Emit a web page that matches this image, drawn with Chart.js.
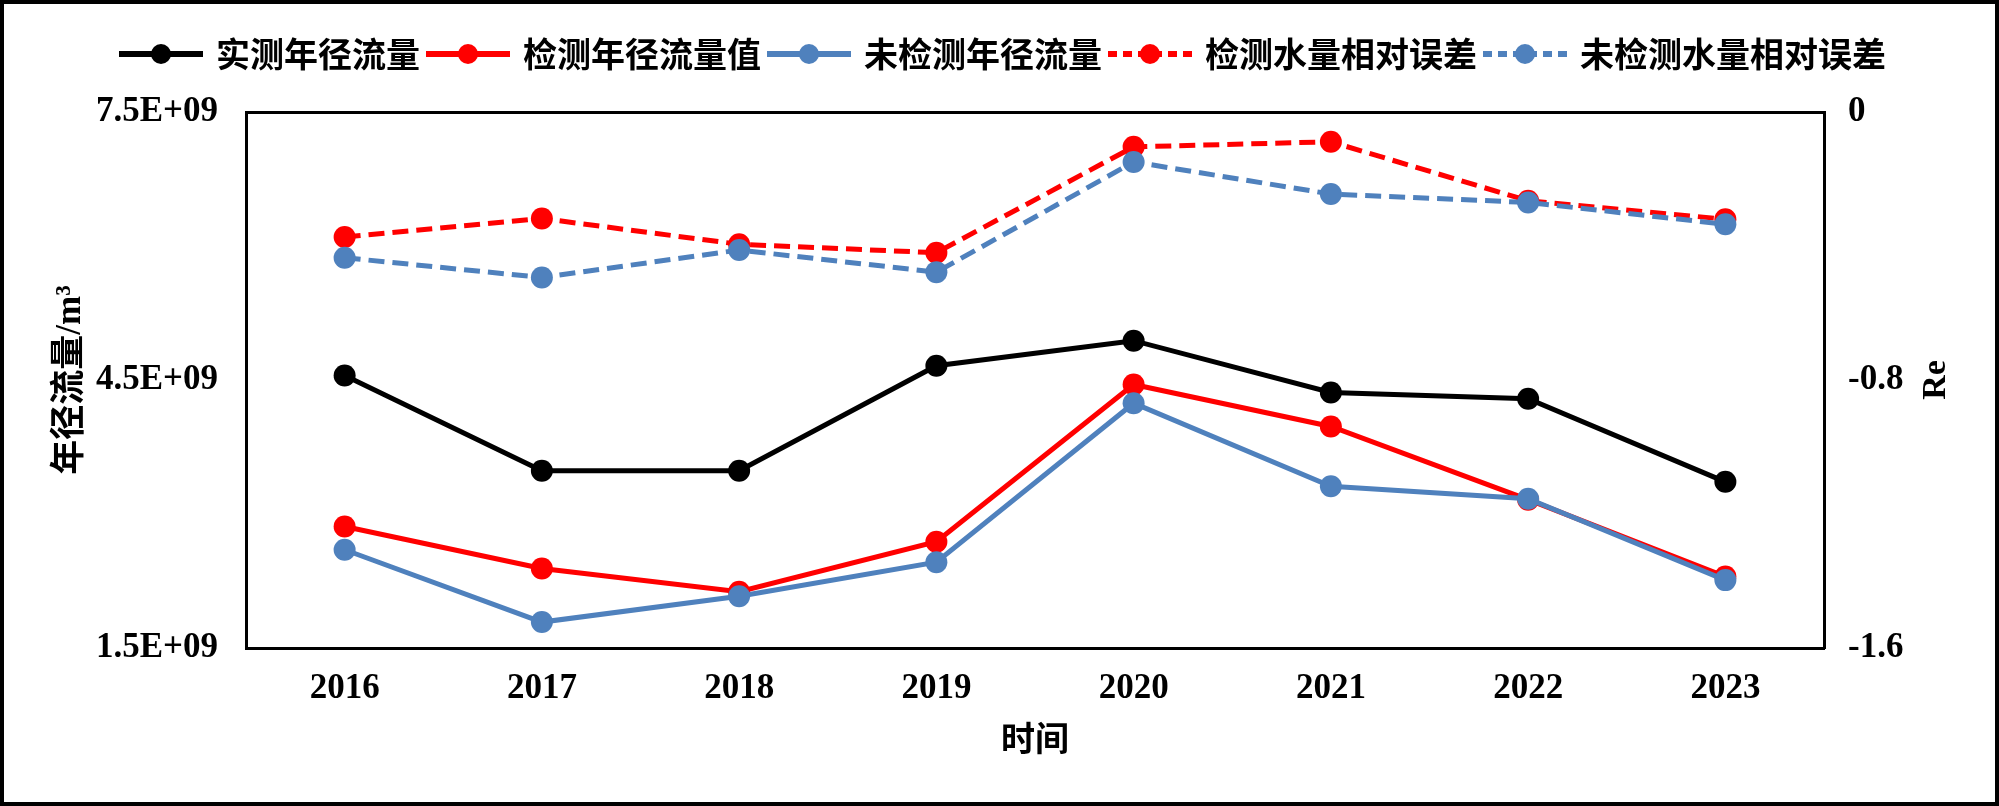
<!DOCTYPE html>
<html>
<head>
<meta charset="utf-8">
<script src="https://cdn.jsdelivr.net/npm/chart.js@4/dist/chart.umd.min.js"></script>
<style>
  html, body { margin: 0; padding: 0; background: #fff; }
  #wrap { width: 1999px; height: 806px; }
</style>
</head>
<body>
<div id="wrap"><canvas id="c" width="1999" height="806"></canvas></div>
<script>
// ---- data ----
const categories = ['2016', '2017', '2018', '2019', '2020', '2021', '2022', '2023'];
const measuredRunoff   = [4.55e9, 3.485e9, 3.485e9, 4.66e9, 4.94e9, 4.36e9, 4.29e9, 3.36e9];
const detectedRunoff   = [2.86e9, 2.39e9, 2.13e9, 2.69e9, 4.45e9, 3.98e9, 3.16e9, 2.30e9];
const undetectedRunoff = [2.60e9, 1.79e9, 2.08e9, 2.46e9, 4.24e9, 3.31e9, 3.17e9, 2.26e9];
const detectedRe       = [-0.373, -0.318, -0.395, -0.42, -0.104, -0.089, -0.265, -0.32];
const undetectedRe     = [-0.435, -0.494, -0.412, -0.478, -0.149, -0.245, -0.27, -0.335];
const seriesNames = ['实测年径流量', '检测年径流量值', '未检测年径流量', '检测水量相对误差', '未检测水量相对误差'];
const leftTicks = [1.5e9, 4.5e9, 7.5e9];
const rightTicks = [-1.6, -0.8, 0];

const BLACK = '#000000', RED = '#FF0000', BLUE = '#4F81BD';
const latinFont = "'Liberation Serif', 'Noto Sans CJK SC', serif";
const cjkFont = "'Noto Sans CJK SC', 'Liberation Serif', sans-serif";

function legendIcon(color, dashed) {
  const cv = document.createElement('canvas');
  cv.width = 84; cv.height = 28;
  const g = cv.getContext('2d');
  g.strokeStyle = color; g.lineWidth = 6;
  if (dashed) g.setLineDash([9, 6]);
  g.beginPath(); g.moveTo(0, 14); g.lineTo(84, 14); g.stroke();
  g.setLineDash([]);
  g.fillStyle = color;
  g.beginPath(); g.arc(42, 14, 10, 0, Math.PI * 2); g.fill();
  return cv;
}
const icons = [
  legendIcon(BLACK, false), legendIcon(RED, false), legendIcon(BLUE, false),
  legendIcon(RED, true), legendIcon(BLUE, true)
];

function mkSet(label, data, color, axis, dashed, order) {
  return {
    label, data, yAxisID: axis, order,
    borderColor: color, backgroundColor: color,
    borderWidth: 5, borderDash: dashed ? [16, 8] : [],
    pointStyle: 'circle', pointRadius: 11, pointHoverRadius: 11,
    pointBackgroundColor: color, pointBorderColor: color, pointBorderWidth: 0,
    tension: 0, fill: false
  };
}

const framePlugin = {
  id: 'frame',
  beforeDraw(chart) {
    const ctx = chart.ctx;
    ctx.save(); ctx.fillStyle = '#fff';
    ctx.fillRect(0, 0, chart.width, chart.height); ctx.restore();
  },
  afterDraw(chart) {
    const ctx = chart.ctx, a = chart.chartArea;
    ctx.save();
    ctx.strokeStyle = '#000'; ctx.lineWidth = 4;
    ctx.strokeRect(2, 2, chart.width - 4, chart.height - 4);
    ctx.fillStyle = '#000';
    ctx.font = "bold 34px " + latinFont;
    ctx.textAlign = 'center'; ctx.textBaseline = 'middle';
    ctx.translate(1936, (a.top + a.bottom) / 2);
    ctx.rotate(-Math.PI / 2);
    ctx.fillText('Re', 0, 0);
    ctx.restore();
  }
};

function fmtSci(v) {
  const s = Number(v).toExponential(1);          // e.g. 1.5e+9
  const m = s.match(/^(-?[\d.]+)e([+-])(\d+)$/);
  if (!m) return s;
  return m[1] + 'E' + m[2] + m[3].padStart(2, '0');
}

new Chart(document.getElementById('c'), {
  type: 'line',
  data: {
    labels: categories,
    datasets: [
      mkSet(seriesNames[0], measuredRunoff, BLACK, 'y', false, 5),
      mkSet(seriesNames[1], detectedRunoff, RED, 'y', false, 4),
      mkSet(seriesNames[2], undetectedRunoff, BLUE, 'y', false, 3),
      mkSet(seriesNames[3], detectedRe, RED, 'y1', true, 2),
      mkSet(seriesNames[4], undetectedRe, BLUE, 'y1', true, 1)
    ]
  },
  options: {
    responsive: false,
    devicePixelRatio: 1,
    animation: false,
    layout: { padding: { top: 27, left: 10, right: 0, bottom: 0 } },
    plugins: {
      tooltip: { enabled: false },
      legend: {
        position: 'top',
        labels: {
          usePointStyle: true,
          pointStyleWidth: 76,
          padding: 10,
          color: '#000',
          font: { family: cjkFont, size: 34, weight: 'bold' },
          sort: (a, b) => a.datasetIndex - b.datasetIndex,
          generateLabels(chart) {
            const items = Chart.defaults.plugins.legend.labels.generateLabels(chart);
            items.forEach(it => { it.pointStyle = icons[it.datasetIndex]; it.lineWidth = 0; });
            return items;
          }
        }
      }
    },
    scales: {
      x: {
        type: 'category', position: 'bottom', offset: true,
        grid: { display: false, drawTicks: false },
        border: { display: true, color: '#000', width: 3 },
        ticks: { color: '#000', padding: 20, maxRotation: 0, autoSkip: false,
                 font: { family: latinFont, size: 35, weight: 'bold' } },
        title: { display: true, text: '时间', color: '#000',
                 font: { family: cjkFont, size: 34, weight: 'bold' },
                 padding: { top: 0, bottom: 48 } },
        afterFit(s) { s.height = 158; }
      },
      xTop: {
        type: 'category', position: 'top', offset: true, labels: categories,
        grid: { display: false, drawTicks: false },
        border: { display: true, color: '#000', width: 3 },
        ticks: { display: false },
        afterFit(s) { s.height = 31; }
      },
      y: {
        type: 'linear', position: 'left', min: 1.5e9, max: 7.5e9,
        afterBuildTicks(s) { s.ticks = leftTicks.map(v => ({ value: v })); },
        grid: { display: false, drawTicks: false },
        border: { display: true, color: '#000', width: 3 },
        ticks: { color: '#000', padding: 28, callback: v => fmtSci(v),
                 font: { family: latinFont, size: 35, weight: 'bold' } },
        title: { display: true, text: '年径流量/m³', color: '#000',
                 font: { family: latinFont, size: 35, weight: 'bold' },
                 padding: { top: 40, bottom: 0 } },
        afterFit(s) { s.width = 236; }
      },
      y1: {
        type: 'linear', position: 'right', min: -1.6, max: 0,
        afterBuildTicks(s) { s.ticks = rightTicks.map(v => ({ value: v })); },
        grid: { display: false, drawTicks: false },
        border: { display: true, color: '#000', width: 3 },
        ticks: { color: '#000', padding: 24,
                 callback: v => { const n = Number(Number(v).toFixed(1)); return n === 0 ? '0' : String(n); },
                 font: { family: latinFont, size: 35, weight: 'bold' } },
        afterFit(s) { s.width = 175; }
      }
    }
  },
  plugins: [framePlugin]
});
</script>
</body>
</html>
